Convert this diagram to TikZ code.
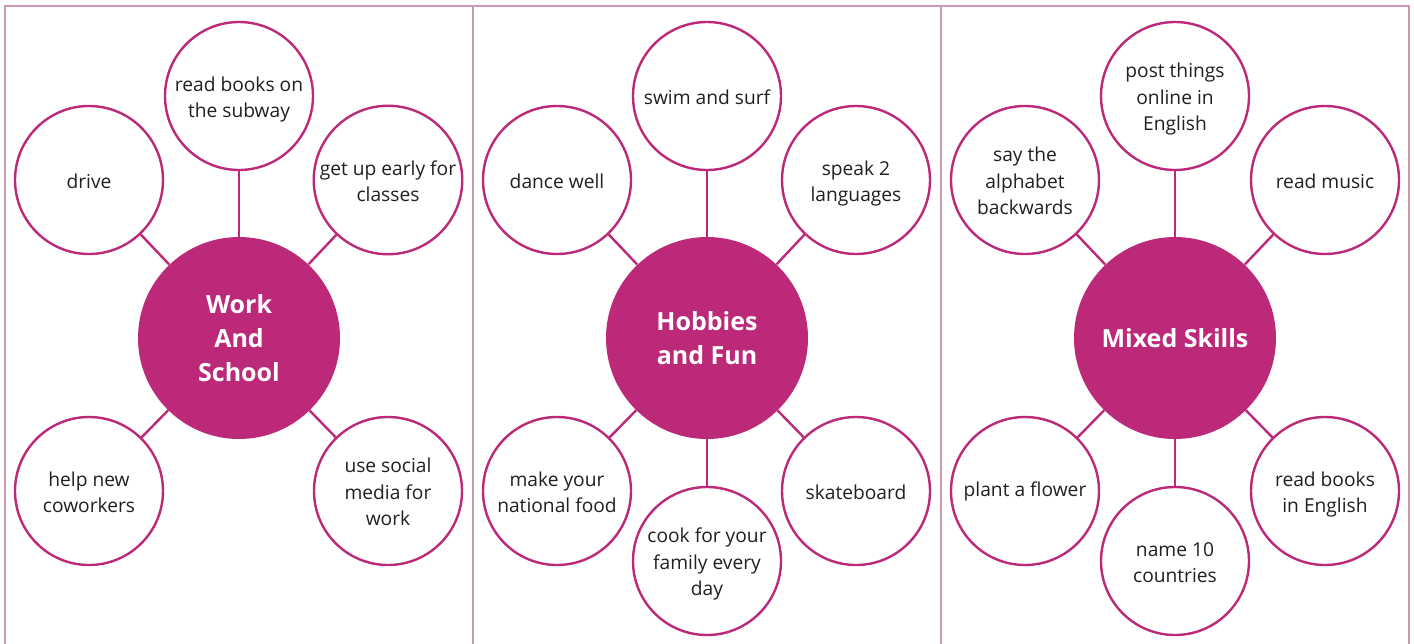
\documentclass[tikz,border=0pt]{standalone}
\usepackage{fontspec}
\setmainfont{Open Sans}
\definecolor{mag}{RGB}{187,41,120}
\definecolor{framecol}{RGB}{204,153,181}
\definecolor{ink}{RGB}{35,31,32}
% stacked lines inside a bubble, with a little extra room above the first line
\newcommand\bubblelines[1]{\begin{tabular}{@{}c@{}}\rule{0pt}{24.5pt}#1\end{tabular}}
\begin{document}
\begin{tikzpicture}[x=1pt,y=-1pt,
  hub/.style={circle, fill=mag, draw=none, minimum size=202pt, inner sep=0pt,
    text=white, align=center, font=\bfseries\fontsize{25}{34}\selectfont},
  leaf/.style={circle, draw=mag, line width=2.4pt, fill=white, minimum size=148pt,
    inner sep=0pt, text=ink, align=center, font=\fontsize{19.2}{26.5}\selectfont,
    execute at begin node={\rule{0pt}{16.5pt}}},
  link/.style={draw=mag, line width=2.4pt},
  panel/.style={draw=framecol, line width=2.6pt}]
\useasboundingbox (0,0) rectangle (1414,643);

% panel frame and dividers
\draw[panel] (5,650) -- (5,6) -- (1409,6) -- (1409,650);
\draw[panel] (473,6) -- (473,650);
\draw[panel] (941,6) -- (941,650);

% Work and School
\node[hub]  (ws)   at (239,338) {Work\\And\\School};
\node[leaf] (ws1)  at (89,180)  {drive};
\node[leaf] (ws2)  at (239,96)  {\bubblelines{read books on\\the subway}};
\node[leaf] (ws3)  at (388,180) {\bubblelines{get up early for\\classes}};
\node[leaf] (ws4)  at (89,491)  {\bubblelines{help new\\coworkers}};
\node[leaf] (ws5)  at (388,491) {\bubblelines{use social\\media for\\work}};
\foreach \n in {ws1,ws2,ws3,ws4,ws5} \draw[link] (ws) -- (\n);

% Hobbies and Fun
\node[hub]  (hf)   at (707,338) {Hobbies\\and Fun};
\node[leaf] (hf1)  at (557,180) {dance well};
\node[leaf] (hf2)  at (707,96)  {swim and surf};
\node[leaf] (hf3)  at (856,180) {\bubblelines{speak 2\\languages}};
\node[leaf] (hf4)  at (557,491) {\bubblelines{make your\\national food}};
\node[leaf] (hf5)  at (707,561) {\bubblelines{cook for your\\family every\\day}};
\node[leaf] (hf6)  at (856,491) {skateboard};
\foreach \n in {hf1,hf2,hf3,hf4,hf5,hf6} \draw[link] (hf) -- (\n);

% Mixed Skills
\node[hub]  (ms)   at (1175,338) {Mixed Skills};
\node[leaf] (ms1)  at (1025,180) {\bubblelines{say the\\alphabet\\backwards}};
\node[leaf] (ms2)  at (1175,96)  {\bubblelines{post things\\online in\\English}};
\node[leaf] (ms3)  at (1325,180) {read music};
\node[leaf] (ms4)  at (1025,491) {plant a flower};
\node[leaf] (ms5)  at (1175,561) {\bubblelines{name 10\\countries}};
\node[leaf] (ms6)  at (1325,491) {\bubblelines{read books\\in English}};
\foreach \n in {ms1,ms2,ms3,ms4,ms5,ms6} \draw[link] (ms) -- (\n);
\end{tikzpicture}
\end{document}
